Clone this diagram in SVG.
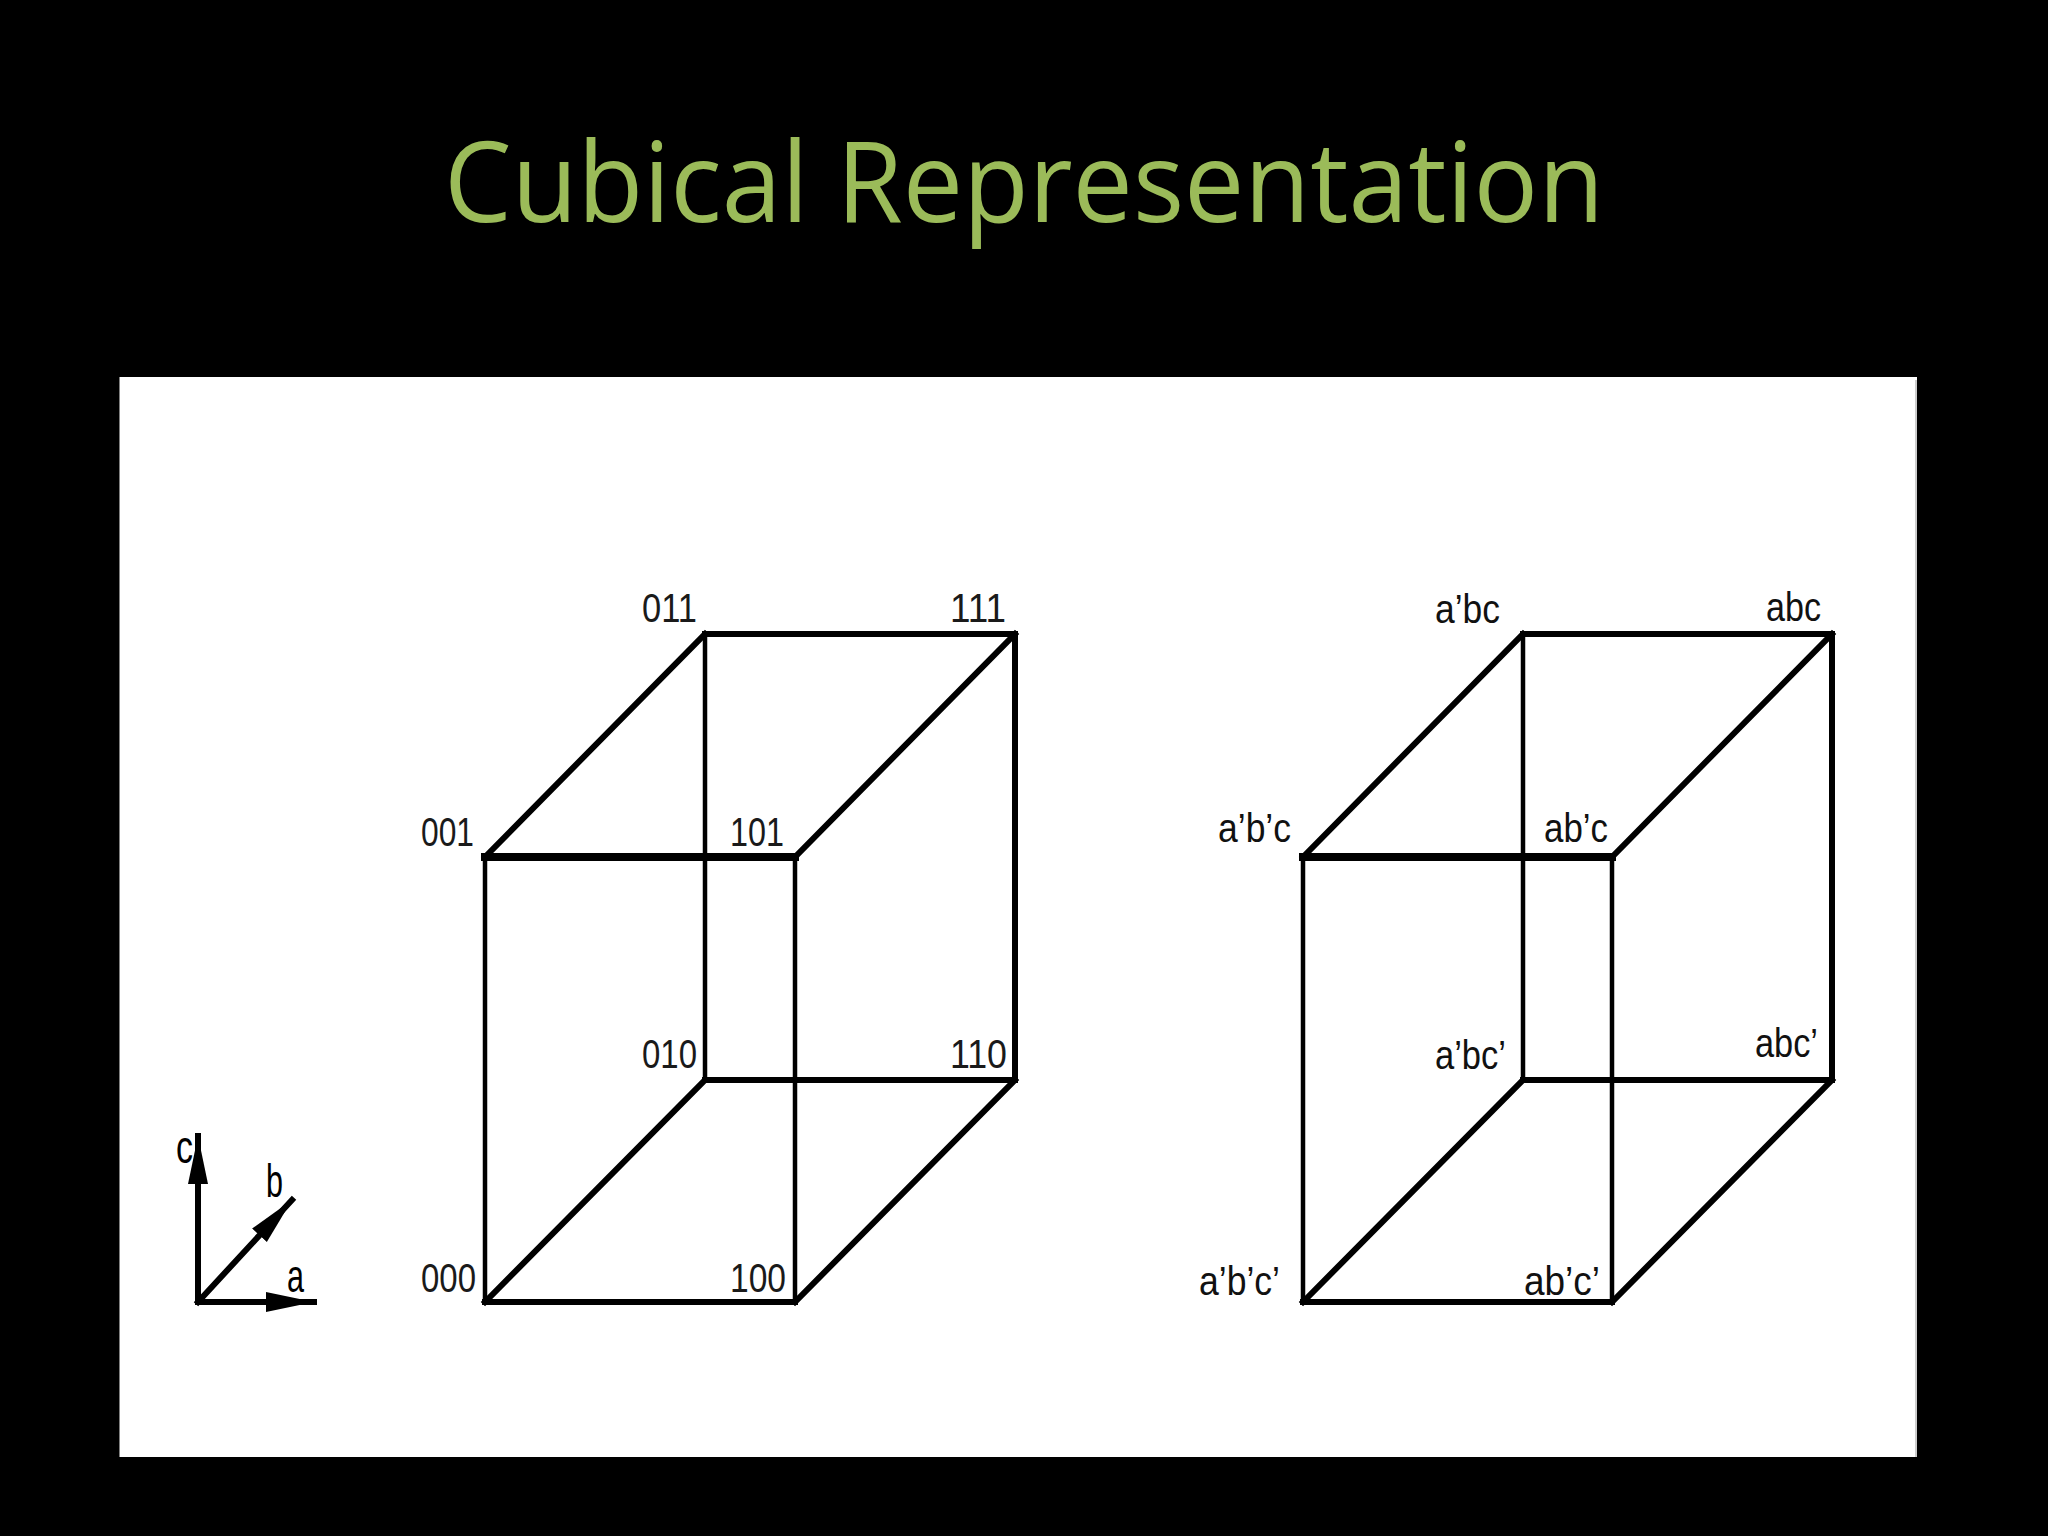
<svg xmlns="http://www.w3.org/2000/svg" width="2048" height="1536" viewBox="0 0 2048 1536">
  <defs>
    <style>
      .edge { stroke: #000; stroke-width: 6; fill: none; stroke-linecap: square; }
      .thin { stroke: #000; stroke-width: 4.5; fill: none; }
      .thick { stroke: #000; stroke-width: 8; fill: none; stroke-linecap: square; }
      .num { font-family: "Liberation Sans", Arial, sans-serif; font-size: 41px; fill: #1a1a1a; text-anchor: end; }
      .lit { font-family: "Liberation Sans", Arial, sans-serif; font-size: 40px; fill: #111; text-anchor: end; }
      .ax { font-family: "Liberation Sans", Arial, sans-serif; font-size: 46px; fill: #000; }
      .title { font-family: "Open Sans", "Liberation Sans", sans-serif; font-size: 112px; fill: #9BBB59; }
    </style>
    <marker id="arr" markerUnits="userSpaceOnUse" markerWidth="50" markerHeight="22" refX="48" refY="10" orient="auto">
      <path d="M0,0 L48,10 L0,20 Z" fill="#000"/>
    </marker>
  </defs>
  <rect x="0" y="0" width="2048" height="1536" fill="#000"/>
  <text class="title" x="444" y="222" textLength="1160" lengthAdjust="spacingAndGlyphs">Cubical Representation</text>
  <rect x="119.5" y="377" width="1797.5" height="1080" fill="#fff"/>
  <line x1="1916" y1="380" x2="1916" y2="1457" stroke="#ccc" stroke-width="2"/>

  <g id="axes">
    <line x1="198" y1="1302" x2="198" y2="1136" class="edge" marker-end="url(#arr)"/>
    <line x1="198" y1="1302" x2="292" y2="1200" class="edge" marker-end="url(#arr)"/>
    <line x1="198" y1="1302" x2="314" y2="1302" class="edge" marker-end="url(#arr)"/>
    <text class="ax" x="176" y="1163" textLength="17" lengthAdjust="spacingAndGlyphs">c</text>
    <text class="ax" x="266" y="1197" textLength="17" lengthAdjust="spacingAndGlyphs">b</text>
    <text class="ax" x="287" y="1292" textLength="17" lengthAdjust="spacingAndGlyphs">a</text>
  </g>

  <g id="cube-binary">
    <g id="cube-binary-edges">
      <line class="edge" x1="705" y1="634" x2="1015" y2="634"/>
      <line class="thin" x1="705" y1="634" x2="705" y2="1080"/>
      <line class="edge" x1="1015" y1="634" x2="1015" y2="1080"/>
      <line class="edge" x1="705" y1="1080" x2="1015" y2="1080"/>
      <line class="edge" x1="485" y1="857" x2="705" y2="634"/>
      <line class="edge" x1="795" y1="857" x2="1015" y2="634"/>
      <line class="edge" x1="485" y1="1302" x2="705" y2="1080"/>
      <line class="edge" x1="795" y1="1302" x2="1015" y2="1080"/>
      <line class="thin" x1="485" y1="857" x2="485" y2="1302"/>
      <line class="thin" x1="795" y1="857" x2="795" y2="1302"/>
      <line class="thick" x1="485" y1="857" x2="795" y2="857"/>
      <line class="edge" x1="485" y1="1302" x2="795" y2="1302"/>
    </g>
    <g id="v011"><text class="num" x="697" y="622" textLength="55" lengthAdjust="spacingAndGlyphs">011</text></g>
    <g id="v111"><text class="num" x="1006" y="622" textLength="56" lengthAdjust="spacingAndGlyphs">111</text></g>
    <g id="v001"><text class="num" x="474" y="846" textLength="53" lengthAdjust="spacingAndGlyphs">001</text></g>
    <g id="v101"><text class="num" x="784" y="846" textLength="54" lengthAdjust="spacingAndGlyphs">101</text></g>
    <g id="v010"><text class="num" x="697" y="1068" textLength="55" lengthAdjust="spacingAndGlyphs">010</text></g>
    <g id="v110"><text class="num" x="1007" y="1068" textLength="57" lengthAdjust="spacingAndGlyphs">110</text></g>
    <g id="v000"><text class="num" x="476" y="1292" textLength="55" lengthAdjust="spacingAndGlyphs">000</text></g>
    <g id="v100"><text class="num" x="786" y="1292" textLength="56" lengthAdjust="spacingAndGlyphs">100</text></g>
  </g>

  <g id="cube-literal">
    <g id="cube-literal-edges">
      <line class="edge" x1="1523" y1="634" x2="1832" y2="634"/>
      <line class="thin" x1="1523" y1="634" x2="1523" y2="1080"/>
      <line class="edge" x1="1832" y1="634" x2="1832" y2="1080"/>
      <line class="edge" x1="1523" y1="1080" x2="1832" y2="1080"/>
      <line class="edge" x1="1303" y1="857" x2="1523" y2="634"/>
      <line class="edge" x1="1612" y1="857" x2="1832" y2="634"/>
      <line class="edge" x1="1303" y1="1302" x2="1523" y2="1080"/>
      <line class="edge" x1="1612" y1="1302" x2="1832" y2="1080"/>
      <line class="thin" x1="1303" y1="857" x2="1303" y2="1302"/>
      <line class="thin" x1="1612" y1="857" x2="1612" y2="1302"/>
      <line class="thick" x1="1303" y1="857" x2="1612" y2="857"/>
      <line class="edge" x1="1303" y1="1302" x2="1612" y2="1302"/>
    </g>
    <g id="l-abc-n"><text class="lit" x="1500" y="623" textLength="65" lengthAdjust="spacingAndGlyphs">a’bc</text></g>
    <g id="l-abc"><text class="lit" x="1821" y="621" textLength="55" lengthAdjust="spacingAndGlyphs">abc</text></g>
    <g id="l-abc-nn"><text class="lit" x="1291" y="842" textLength="73" lengthAdjust="spacingAndGlyphs">a’b’c</text></g>
    <g id="l-ab-nc"><text class="lit" x="1608" y="842" textLength="64" lengthAdjust="spacingAndGlyphs">ab’c</text></g>
    <g id="l-abc-ncn"><text class="lit" x="1506" y="1069" textLength="71" lengthAdjust="spacingAndGlyphs">a’bc’</text></g>
    <g id="l-abc-c"><text class="lit" x="1818" y="1057" textLength="63" lengthAdjust="spacingAndGlyphs">abc’</text></g>
    <g id="l-abc-all"><text class="lit" x="1280" y="1295" textLength="81" lengthAdjust="spacingAndGlyphs">a’b’c’</text></g>
    <g id="l-ab-ncn"><text class="lit" x="1600" y="1295" textLength="76" lengthAdjust="spacingAndGlyphs">ab’c’</text></g>
  </g>
</svg>
